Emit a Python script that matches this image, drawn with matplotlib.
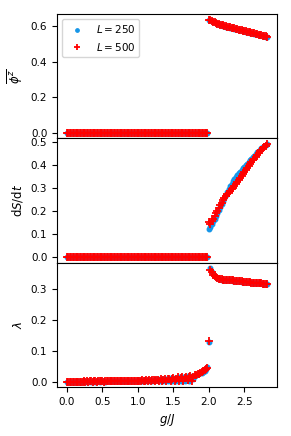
import numpy as np
import matplotlib
matplotlib.use('Agg')
import matplotlib.pyplot as plt
from matplotlib.ticker import MultipleLocator

# g/J grid (step 0.02)
g = np.round(np.linspace(0.0, 2.82, 142), 2)

# order parameter, zero below the transition
phi_250 = [0.0] * 100 + [
    0.635, 0.631, 0.627, 0.623, 0.620, 0.616, 0.613, 0.610, 0.607, 0.605,
    0.602, 0.600, 0.597, 0.595, 0.593, 0.591, 0.589, 0.587, 0.585, 0.583,
    0.581, 0.579, 0.577, 0.575, 0.573, 0.571, 0.569, 0.567, 0.565, 0.563,
    0.561, 0.559, 0.557, 0.555, 0.553, 0.551, 0.549, 0.547, 0.545, 0.543,
    0.541, 0.537]
phi_500 = [0.0] * 100 + [
    0.636, 0.632, 0.628, 0.624, 0.621, 0.617, 0.614, 0.611, 0.608, 0.606,
    0.603, 0.601, 0.598, 0.596, 0.594, 0.592, 0.590, 0.588, 0.586, 0.584,
    0.582, 0.580, 0.578, 0.576, 0.574, 0.572, 0.570, 0.568, 0.566, 0.564,
    0.562, 0.560, 0.558, 0.556, 0.554, 0.552, 0.550, 0.548, 0.546, 0.544,
    0.542, 0.539]

# entropy growth rate
dsdt_250 = [0.0] * 100 + [
    0.122, 0.130, 0.142, 0.155, 0.167, 0.180, 0.193, 0.206, 0.219, 0.232,
    0.245, 0.258, 0.271, 0.284, 0.297, 0.308, 0.319, 0.329, 0.338, 0.347,
    0.355, 0.363, 0.371, 0.378, 0.385, 0.392, 0.399, 0.406, 0.413, 0.420,
    0.427, 0.434, 0.441, 0.448, 0.455, 0.461, 0.467, 0.473, 0.478, 0.483,
    0.487, 0.491]
dsdt_500 = [0.0] * 100 + [
    0.152, 0.145, 0.158, 0.166, 0.177, 0.190, 0.201, 0.213, 0.225, 0.235,
    0.246, 0.255, 0.264, 0.272, 0.280, 0.287, 0.294, 0.302, 0.310, 0.319,
    0.328, 0.336, 0.345, 0.353, 0.362, 0.370, 0.379, 0.387, 0.396, 0.404,
    0.412, 0.420, 0.428, 0.436, 0.444, 0.452, 0.459, 0.466, 0.472, 0.478,
    0.484, 0.490]

# lambda
lam_250 = [
    0.000, 0.000, 0.000, 0.000, 0.000, 0.000, 0.000, 0.001, 0.000, 0.000,
    0.000, 0.001, 0.000, 0.001, 0.000, 0.000, 0.001, 0.000, 0.001, 0.001,
    0.000, 0.001, 0.001, 0.000, 0.001, 0.001, 0.001, 0.000, 0.002, 0.001,
    0.001, 0.002, 0.001, 0.001, 0.002, 0.002, 0.001, 0.002, 0.002, 0.001,
    0.003, 0.002, 0.002, 0.003, 0.002, 0.003, 0.003, 0.002, 0.003, 0.002,
    0.003, 0.004, 0.002, 0.003, 0.004, 0.002, 0.005, 0.003, 0.004, 0.005,
    0.003, 0.006, 0.004, 0.005, 0.007, 0.002, 0.006, 0.008, 0.001, 0.007,
    0.009, 0.002, 0.008, 0.010, 0.003, 0.009, 0.012, 0.002, 0.012, 0.014,
    0.001, 0.011, 0.015, 0.003, 0.013, 0.017, 0.002, 0.015, 0.019, 0.008,
    0.017, 0.021, 0.023, 0.026, 0.027, 0.029, 0.032, 0.035, 0.039, 0.046,
    0.129, 0.366, 0.355, 0.347, 0.341, 0.337, 0.334, 0.332, 0.331, 0.330,
    0.330, 0.329, 0.329, 0.328, 0.328, 0.327, 0.327, 0.326, 0.326, 0.325,
    0.325, 0.324, 0.324, 0.323, 0.323, 0.322, 0.322, 0.322, 0.321, 0.321,
    0.320, 0.320, 0.320, 0.319, 0.319, 0.319, 0.318, 0.318, 0.317, 0.317,
    0.317, 0.316]
lam_500 = [
    0.000, 0.000, 0.000, 0.000, 0.000, 0.000, 0.000, 0.000, 0.000, 0.000,
    0.000, 0.000, 0.001, 0.000, 0.001, 0.000, 0.001, 0.001, 0.000, 0.001,
    0.001, 0.000, 0.001, 0.001, 0.001, 0.001, 0.000, 0.001, 0.001, 0.002,
    0.001, 0.001, 0.002, 0.001, 0.002, 0.001, 0.002, 0.002, 0.001, 0.002,
    0.002, 0.001, 0.002, 0.003, 0.002, 0.002, 0.003, 0.002, 0.003, 0.002,
    0.003, 0.002, 0.003, 0.004, 0.002, 0.003, 0.004, 0.003, 0.005, 0.002,
    0.004, 0.005, 0.002, 0.006, 0.004, 0.001, 0.007, 0.003, 0.006, 0.008,
    0.002, 0.007, 0.009, 0.001, 0.008, 0.011, 0.002, 0.009, 0.013, 0.003,
    0.011, 0.014, 0.001, 0.012, 0.016, 0.004, 0.014, 0.018, 0.002, 0.016,
    0.020, 0.022, 0.025, 0.024, 0.028, 0.030, 0.033, 0.036, 0.040, 0.045,
    0.130, 0.362, 0.354, 0.346, 0.341, 0.337, 0.334, 0.333, 0.332, 0.331,
    0.330, 0.330, 0.329, 0.329, 0.328, 0.328, 0.327, 0.327, 0.326, 0.326,
    0.325, 0.325, 0.324, 0.324, 0.323, 0.323, 0.322, 0.322, 0.321, 0.321,
    0.320, 0.320, 0.320, 0.319, 0.319, 0.318, 0.318, 0.318, 0.317, 0.317,
    0.317, 0.316]

blue = '#1696e8'
fs = 7.5

fig, axes = plt.subplots(3, 1, figsize=(2.91, 4.36), dpi=100, sharex=True)
fig.subplots_adjust(left=0.196, right=0.952, top=0.968, bottom=0.112, hspace=0)

series = [(phi_250, phi_500, r'$\overline{\phi^z}$', 0.2),
          (dsdt_250, dsdt_500, r'd$S$/d$t$', 0.1),
          (lam_250, lam_500, r'$\lambda$', 0.1)]

for ax, (y250, y500, lab, step) in zip(axes, series):
    ax.plot(g, y250, '.', color=blue, ms=6.5, label=r'$L=250$')
    ax.plot(g, y500, '+', color='red', ms=5.5, mew=1.3, label=r'$L=500$')
    ax.set_ylabel(lab, fontsize=8.5)
    ax.yaxis.set_major_locator(MultipleLocator(step))
    ax.tick_params(labelsize=fs)

axes[0].legend(loc='upper left', fontsize=fs, markerscale=0.75)
axes[2].set_xlabel(r'$g/J$', fontsize=8.5)
axes[2].set_xticks([0.0, 0.5, 1.0, 1.5, 2.0, 2.5])

plt.savefig('out.png', dpi=100)
